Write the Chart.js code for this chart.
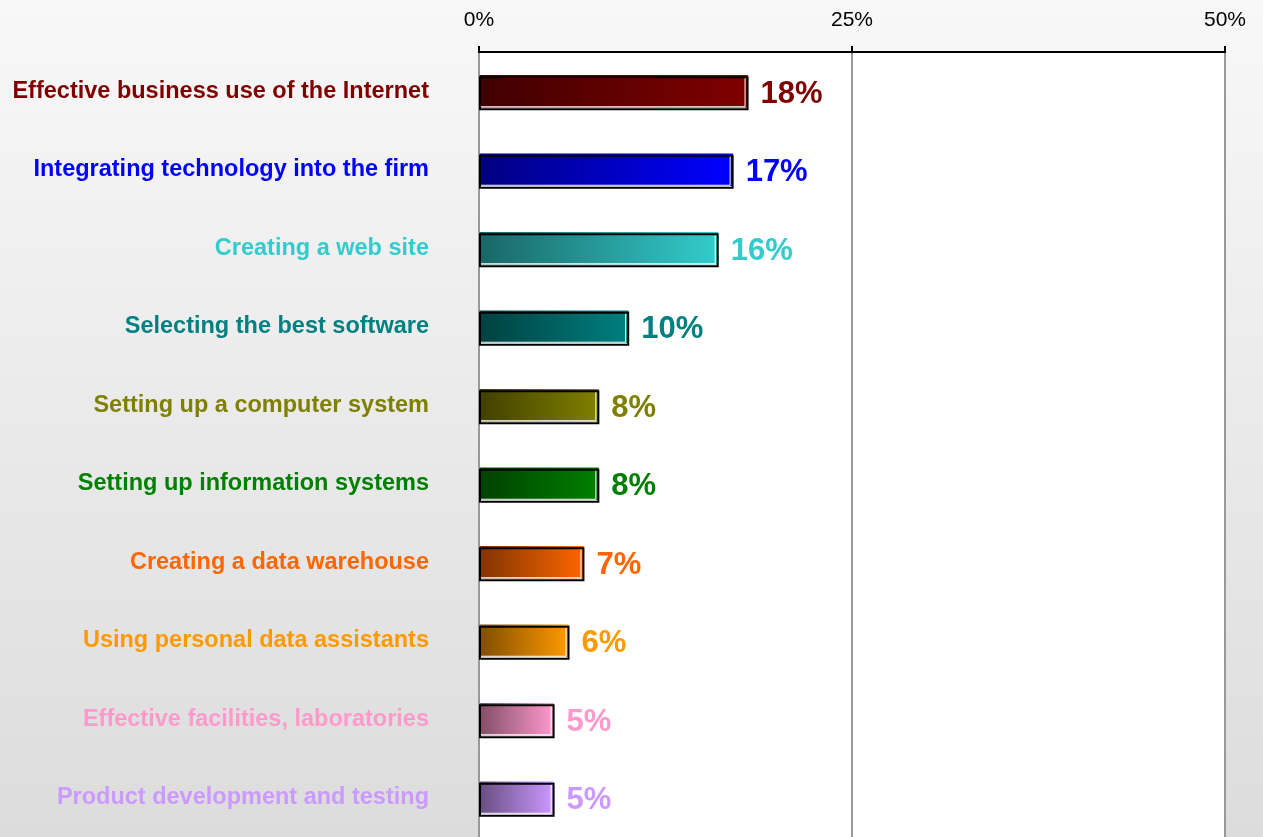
<!DOCTYPE html>
<html>
<head>
<meta charset="utf-8">
<script src="https://cdn.jsdelivr.net/npm/chart.js@4/dist/chart.umd.min.js"></script>
<style>
  html, body { margin: 0; padding: 0; background: #fff; }
  #wrap { width: 1263px; height: 837px; }
</style>
</head>
<body>
<div id="wrap"><canvas id="chart" width="1263" height="837"></canvas></div>
<script>
// --- DATA ---
const categories = [
    'Effective business use of the Internet',
    'Integrating technology into the firm',
    'Creating a web site',
    'Selecting the best software',
    'Setting up a computer system',
    'Setting up information systems',
    'Creating a data warehouse',
    'Using personal data assistants',
    'Effective facilities, laboratories',
    'Product development and testing'
];
const values = [18, 17, 16, 10, 8, 8, 7, 6, 5, 5];
const xTicks = [0, 25, 50];

// couleurs : fin claire (droite) et debut sombre (gauche) du degrade
const lightColors = ['#800000', '#0000FF', '#33CCCC', '#008080', '#808000', '#008000', '#FF6600', '#FF9900', '#FF99CC', '#CC99FF'];
const darkColors = ['#400000', '#000080', '#1A6666', '#004040', '#404000', '#004000', '#803300', '#804D00', '#804D66', '#664D80'];

const FONT = '"Liberation Sans", Arial, sans-serif';

// fond gris degrade + zone de trace blanche
const backgroundPlugin = {
    id: 'bg',
    beforeDraw(chart) {
        const { ctx, width, height, chartArea } = chart;
        ctx.save();
        const g = ctx.createLinearGradient(0, 0, 0, height);
        g.addColorStop(0, '#f8f8f8');
        g.addColorStop(1, '#dcdcdc');
        ctx.fillStyle = g;
        ctx.fillRect(0, 0, width, height);
        ctx.fillStyle = '#ffffff';
        ctx.fillRect(chartArea.left, chartArea.top, chartArea.right - chartArea.left, chartArea.bottom - chartArea.top);
        ctx.restore();
    }
};

// contour noir decale + etiquettes de valeur
const barDecorPlugin = {
    id: 'barDecor',
    afterDatasetsDraw(chart) {
        const { ctx } = chart;
        const meta = chart.getDatasetMeta(0);
        ctx.save();
        meta.data.forEach((bar, i) => {
            const top = bar.y - bar.height / 2;
            const bottom = bar.y + bar.height / 2;
            const left = bar.base;
            const right = bar.x;

            // liseret blanc interieur
            ctx.strokeStyle = '#ffffff';
            ctx.lineWidth = 1;
            ctx.beginPath();
            ctx.moveTo(left + 1, bottom - 0.5);
            ctx.lineTo(right - 2.5, bottom - 0.5);
            ctx.lineTo(right - 2.5, top + 2);
            ctx.stroke();

            // contour noir decale vers le bas
            ctx.strokeStyle = '#000000';
            ctx.lineWidth = 2;
            ctx.strokeRect(left, top + 2, right - left, bottom - top);

            // valeur
            ctx.fillStyle = lightColors[i];
            ctx.font = 'bold 31px ' + FONT;
            ctx.textAlign = 'left';
            ctx.textBaseline = 'middle';
            ctx.fillText(values[i] + '%', right + 13, bar.y + 3);
        });
        ctx.restore();
    }
};

new Chart(document.getElementById('chart'), {
    type: 'bar',
    data: {
        labels: categories,
        datasets: [{
            data: values,
            barThickness: 32,
            borderWidth: 0,
            backgroundColor: (context) => {
                const chart = context.chart;
                const i = context.dataIndex;
                const xs = chart.scales.x;
                if (!xs || !chart.chartArea || i === undefined) return lightColors[i] || '#888';
                const x0 = xs.getPixelForValue(0);
                const x1 = xs.getPixelForValue(values[i]);
                const g = chart.ctx.createLinearGradient(x0, 0, x1, 0);
                g.addColorStop(0, darkColors[i]);
                g.addColorStop(1, lightColors[i]);
                return g;
            }
        }]
    },
    options: {
        indexAxis: 'y',
        responsive: false,
        animation: false,
        devicePixelRatio: 1,
        layout: { padding: { left: 10, right: 38, top: 0, bottom: 0 } },
        plugins: {
            legend: { display: false },
            tooltip: { enabled: false }
        },
        scales: {
            x: {
                position: 'top',
                min: 0,
                max: 50,
                afterBuildTicks: (scale) => {
                    scale.ticks = xTicks.map(v => ({ value: v }));
                },
                afterFit: (scale) => { scale.height = 52; },
                ticks: {
                    color: '#000',
                    font: { family: FONT, size: 21 },
                    padding: 13,
                    callback: (v) => v + '%'
                },
                grid: {
                    color: '#999999',
                    lineWidth: 2,
                    tickColor: '#000',
                    tickLength: 6
                },
                border: { display: true, color: '#000', width: 2 }
            },
            y: {
                afterFit: (scale) => {
                    scale.width = 469;
                    scale.paddingTop = 0;
                    scale.paddingBottom = 0;
                },
                grid: { display: false, tickLength: 50 },
                border: { display: false },
                ticks: {
                    padding: 0,
                    font: { family: FONT, size: 23.5, weight: 'bold', lineHeight: 0.01 },
                    color: (ctx) => lightColors[ctx.index]
                }
            }
        }
    },
    plugins: [backgroundPlugin, barDecorPlugin]
});
</script>
</body>
</html>
